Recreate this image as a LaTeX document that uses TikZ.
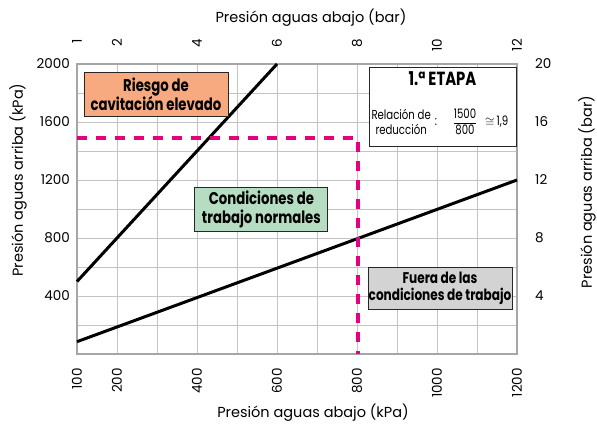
\documentclass[tikz,border=0pt]{standalone}
\usepackage{fontspec}
\usepackage{amsmath}
\setmainfont{Poppins}
\newfontfamily\condfont[FakeStretch=0.78]{Poppins}
\usetikzlibrary{positioning}

\definecolor{gridgray}{HTML}{C4C4C4}
\definecolor{framegray}{HTML}{A6A6A6}
\definecolor{dashpink}{HTML}{E6007E}
\definecolor{riskorange}{HTML}{F7AA80}
\definecolor{normalgreen}{HTML}{B6DCC2}
\definecolor{outgray}{HTML}{D3D3D3}

\tikzset{
  ticklab/.style={font=\fontsize{13.5}{14}\selectfont, inner sep=0pt},
  axtitle/.style={font=\fontsize{14.5}{15}\selectfont, inner sep=0pt},
  zone/.style={draw=black!85, line width=0.9pt, inner sep=0pt, align=center,
    font=\condfont\bfseries\fontsize{17}{19}\selectfont},
  curve/.style={line width=3pt, black},
  limit/.style={line width=3.5pt, dashpink, dash pattern=on 9.5pt off 9.5pt},
  boxtext/.style={font=\condfont\fontsize{13}{15}\selectfont, inner sep=0pt}
}

\begin{document}
\begin{tikzpicture}[x=0.4pt, y=0.145pt]
		\useasboundingbox (-92.5,-510.34) rectangle (1400,2441.38);
		% Grid
		\foreach \gx in {100,200,...,1200}
			\draw[gridgray, line width=0.8pt] (\gx,0) -- (\gx,2000);
		\foreach \gy in {0,200,...,2000}
			\draw[gridgray, line width=0.8pt] (100,\gy) -- (1200,\gy);
		\draw[framegray, line width=1.6pt] (100,0) rectangle (1200,2000);
		
		% Tick labels
		\foreach \v in {400,800,...,2000}
			\node[ticklab, anchor=east, xshift=-7pt] (l\v) at (100,\v) {\v};
		\foreach \v/\b in {400/4,800/8,1200/12,1600/16,2000/20}
			\node[ticklab, anchor=west, xshift=18pt] (r\v) at (1200,\v) {\b};
		\foreach \v in {100,200,400,600,800,1000,1200}
			\node[ticklab, yshift=-14pt, rotate=90, anchor=east] (b\v) at (\v,0) {\v};
		\foreach \v/\b in {100/1,200/2,400/4,600/6,800/8,1000/10,1200/12}
			\node[ticklab, yshift=25pt, rotate=90, anchor=east] (t\v) at (\v,2000) {\b};
		
		% Axis titles
		\node[axtitle] (xbot) at (690,-407) {Presión aguas abajo (kPa)};
		\node[axtitle] (xtop) at (685,2317) {Presión aguas abajo (bar)};
		\node[axtitle, rotate=90] (yleft) at (-47.5,1200) {Presión aguas arriba (kPa)};
		\node[axtitle, rotate=90] (yright) at (1375,1117) {Presión aguas arriba (bar)};
		
		% Working lines
		\coordinate (s0) at (100,500);
		\coordinate (s1) at (600,2000);
		\coordinate (n0) at (100,85);
		\coordinate (n1) at (1200,1200);
		\draw[curve] (s0) -- (s1);
		\draw[curve] (n0) -- (n1);
		
		% Operating point
		\coordinate (p0) at (100,1490);
		\coordinate (p1) at (802,1490);
		\coordinate (p2) at (802,0);
		\draw[limit] (p0) -- (p1) -- (p2);
		
		% Zones
		\node[zone, fill=riskorange, minimum width=144pt, minimum height=44pt] (risk) at (297.5,1793) {Riesgo de\\cavitación elevado};
		\node[zone, fill=normalgreen, minimum width=133pt, minimum height=44pt] (normal) at (561,1000) {Condiciones de\\trabajo normales};
		\node[zone, fill=outgray, minimum width=144pt, minimum height=42pt, font=\condfont\bfseries\fontsize{15.5}{17}\selectfont] (out) at (1007.5,455) {Fuera de las\\condiciones de trabajo};
		
		% Stage box
		\node[zone, fill=white, minimum width=147pt, minimum height=79pt] (etapa) at (1013.75,1707) {};
		\node[font=\condfont\bfseries\fontsize{19}{21}\selectfont, below=5pt of etapa.north, inner sep=0pt] (etapatit) {1.ª ETAPA};
		\node[boxtext, align=center, anchor=east] (rel) at (985,1600) {Relación de\\reducción};
		\node[boxtext] (colon) at (997.5,1600) {:};
		\node[boxtext, font=\condfont\fontsize{13}{14}\selectfont] (ratio) at (1070,1600) {$\dfrac{\mbox{1500}}{\mbox{800}}$};
		\node[boxtext, anchor=west] (approx) at (1120,1600) {$\cong$\,1,9};
	\end{tikzpicture}
\end{document}
